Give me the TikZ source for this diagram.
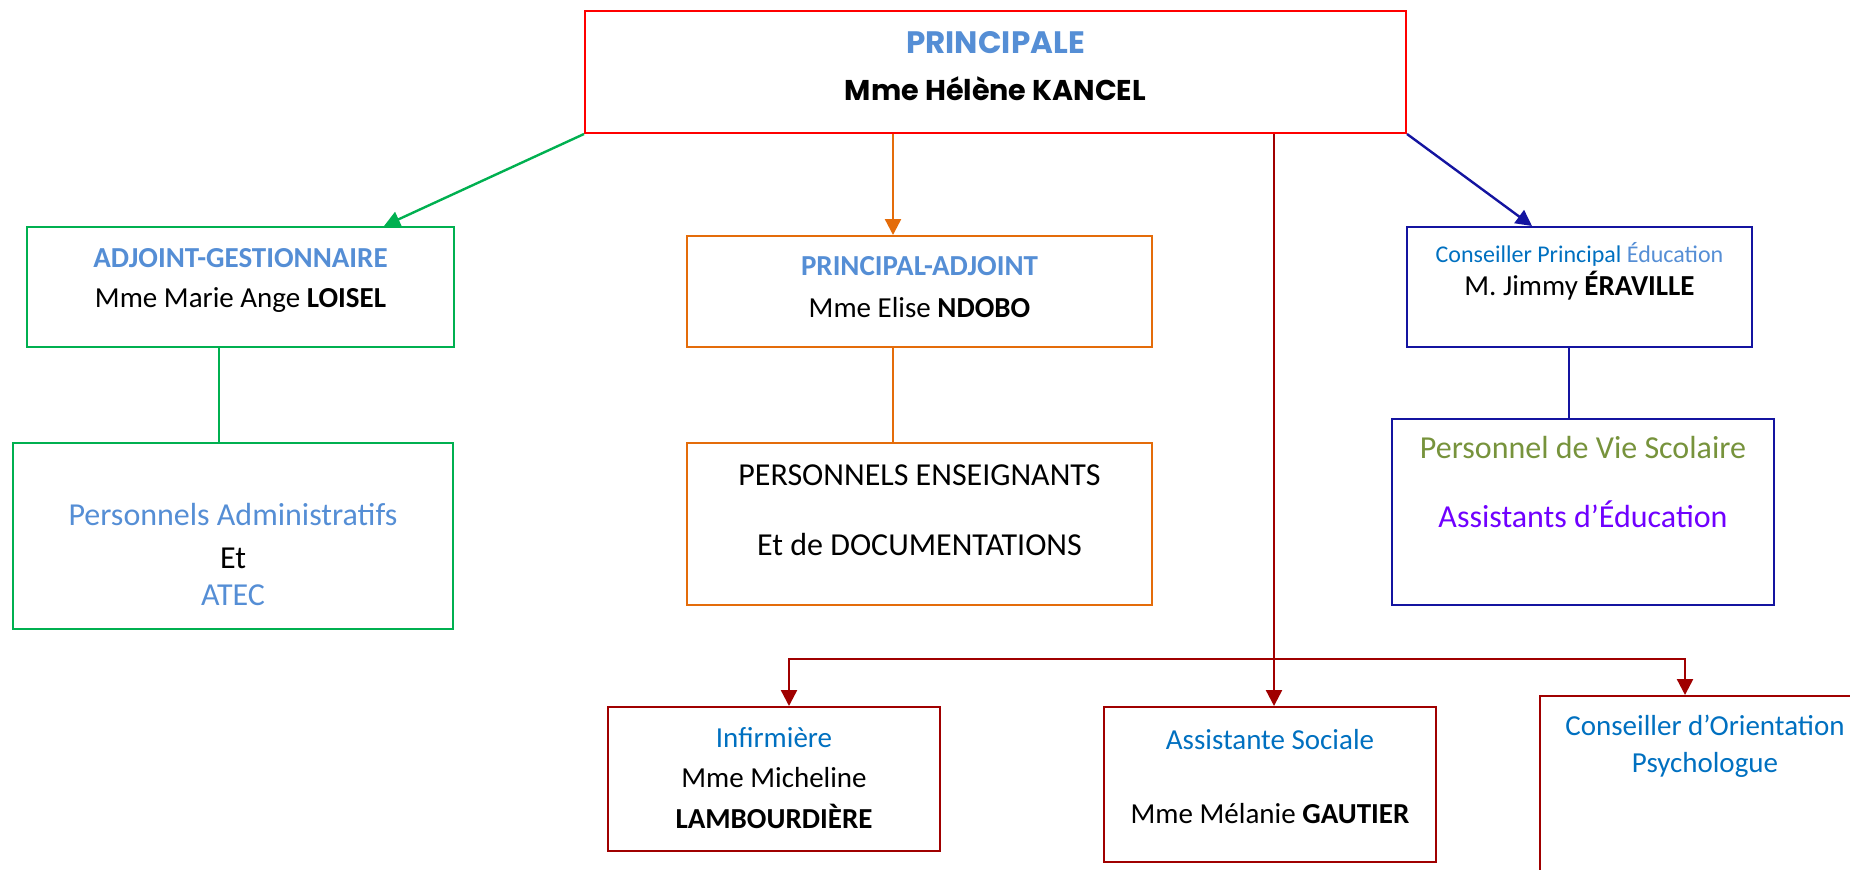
\documentclass[tikz,border=0pt]{standalone}
\usepackage{fontspec}
\setmainfont{Carlito}
\newfontfamily\comicfont{Poppins}
\usepackage{xcolor}
\usepackage{tikz}
\usetikzlibrary{arrows.meta,calc}
\definecolor{titleblue}{HTML}{558ED5}
\definecolor{cpeblue}{HTML}{0070C0}
\definecolor{grn}{HTML}{00B050}
\definecolor{org}{HTML}{E46C0A}
\definecolor{navy}{RGB}{20,20,160}
\definecolor{dred}{RGB}{160,0,0}
\definecolor{olive}{HTML}{77933C}
\definecolor{violet}{RGB}{112,0,255}
\newcommand{\fsz}[1]{\fontsize{#1}{#1}\selectfont}
\tikzstyle{box} = [draw, line width=1pt, inner sep=0pt]
\tikzstyle{lbl} = [anchor=base, inner sep=0pt, font=\fsz{14.5}]
\tikzstyle{big} = [lbl, font=\fsz{16}]
\tikzstyle{arr} = [line width=1.2pt, -{Triangle[length=8pt,width=8pt]}]

\begin{document}
\begin{tikzpicture}[x=0.5pt,y=-0.5pt]
  \useasboundingbox (0,0) rectangle (1850,869);
  \clip (0,0) rectangle (1850,869);

  % boxes
  \node [box, red, minimum width=410.5pt, minimum height=61pt](top) at (995.5,72) {};
  \node [box, grn, minimum width=213.5pt, minimum height=60pt](adj) at (240.5,287) {};
  \node [box, grn, minimum width=220pt, minimum height=93pt](padm) at (233,536) {};
  \node [box, org, minimum width=232.5pt, minimum height=55.5pt](pa) at (919.5,291.5) {};
  \node [box, org, minimum width=232.5pt, minimum height=81pt](pe) at (919.5,524) {};
  \node [box, navy, minimum width=172.5pt, minimum height=60pt](cpe) at (1579.5,287) {};
  \node [box, navy, minimum width=191pt, minimum height=93pt](vs) at (1583,512) {};
  \node [box, dred, minimum width=166pt, minimum height=72pt](inf) at (774,779) {};
  \node [box, dred, minimum width=166pt, minimum height=77.5pt](asst) at (1270,784.5) {};
  \node [box, dred, minimum width=165pt, minimum height=102pt](cop) at (1705,798) {};

  % texts
  \node [lbl, titleblue, font=\fsz{15.5}\comicfont\bfseries](topT) at (995.5,53) {PRINCIPALE};
  \node [lbl, font=\fsz{14.3}\comicfont\bfseries](topN) at (995.5,100) {Mme Hélène KANCEL};
  \node [lbl, titleblue, font=\fsz{14.5}\bfseries](adjT) at (240.5,267) {ADJOINT-GESTIONNAIRE};
  \node [lbl](adjN) at (240.5,307) {Mme Marie Ange \textbf{LOISEL}};
  \node [big, titleblue](padmA) at (233,525) {Personnels Administratifs};
  \node [big](padmB) at (233,568) {Et};
  \node [big, titleblue](padmC) at (233,605) {ATEC};
  \node [lbl, titleblue, font=\fsz{14.5}\bfseries](paT) at (919.5,275) {PRINCIPAL-ADJOINT};
  \node [lbl](paN) at (919.5,317) {Mme Elise \textbf{NDOBO}};
  \node [big](peA) at (919.5,485) {PERSONNELS ENSEIGNANTS};
  \node [big](peB) at (919.5,555) {Et de DOCUMENTATIONS};
  \node [lbl, cpeblue, font=\fsz{12}](cpeT) at (1579.5,262) {Conseiller Principal \textcolor{titleblue}{Éducation}};
  \node [lbl](cpeN) at (1579.5,295) {M. Jimmy \textbf{ÉRAVILLE}};
  \node [big, olive](vsA) at (1583,458) {Personnel de Vie Scolaire};
  \node [big, violet](vsB) at (1583,527) {Assistants d’Éducation};
  \node [lbl, cpeblue](infT) at (774,747) {Infirmière};
  \node [lbl](infN) at (774,787) {Mme Micheline};
  \node [lbl, font=\fsz{14.5}\bfseries](infS) at (774,828) {LAMBOURDIÈRE};
  \node [lbl, cpeblue](asstT) at (1270,749) {Assistante Sociale};
  \node [lbl](asstN) at (1270,823) {Mme Mélanie \textbf{GAUTIER}};
  \node [lbl, cpeblue](copA) at (1705,735) {Conseiller d’Orientation};
  \node [lbl, cpeblue](copB) at (1705,772) {Psychologue};

  % columns of the connectors
  \coordinate (gx) at (384,0);
  \coordinate (gl) at (219,0);
  \coordinate (ox) at (893,0);
  \coordinate (bx) at (1532,0);
  \coordinate (bl) at (1569,0);
  \coordinate (rx) at (1274,0);
  \coordinate (ix) at (789,0);
  \coordinate (cx) at (1685,0);
  \coordinate (jn) at (1274,659);

  \draw [arr, grn] (top.south west) -- (adj.north -| gx);
  \draw [grn, line width=0.8pt] (adj.south -| gl) -- (padm.north -| gl);
  \draw [arr, org] (top.south -| ox) -- (pa.north -| ox);
  \draw [org, line width=0.8pt] (pa.south -| ox) -- (pe.north -| ox);
  \draw [arr, navy] (top.south east) -- (cpe.north -| bx);
  \draw [navy, line width=0.8pt] (cpe.south -| bl) -- (vs.north -| bl);
  \draw [arr, dred] (top.south -| rx) -- (asst.north -| rx);
  \draw [arr, dred] (jn) -| (inf.north -| ix);
  \draw [arr, dred] (jn) -| (cop.north -| cx);
\end{tikzpicture}
\end{document}
